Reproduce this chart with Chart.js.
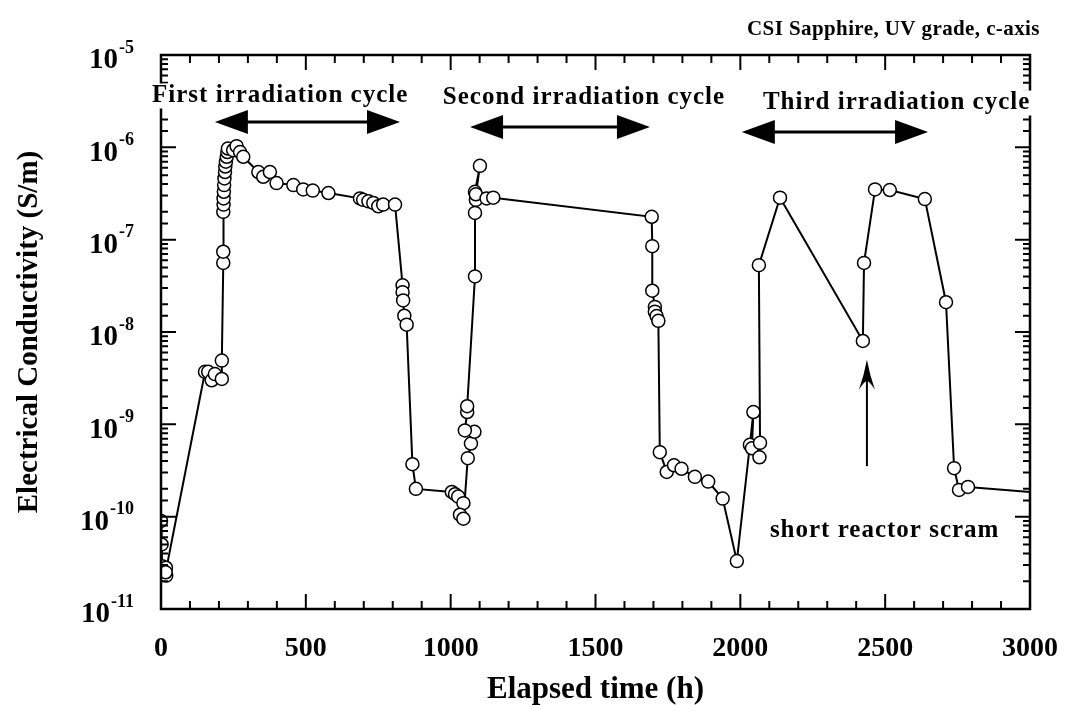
<!DOCTYPE html>
<html><head><meta charset="utf-8">
<script src="https://cdn.jsdelivr.net/npm/chart.js@4.4.1/dist/chart.umd.min.js"></script>
<style>html,body{margin:0;padding:0;background:#fff}#wrap{width:1065px;height:705px;position:relative}</style>
</head><body><div id="wrap"><canvas id="c"></canvas></div>
<script>
// Elapsed time (h) and electrical conductivity (S/m), in measurement order
const hours = [0, 2, 4, 10, 17, 18, 16,
  152, 163, 175, 186, 210, 210,
  215, 215, 215, 216, 216, 217, 218, 219, 221, 222, 224, 227, 229, 231,
  249, 261, 273, 284,
  336, 353, 376, 399, 457, 491, 524, 578, 687, 698, 716, 733, 750, 767, 808,
  834, 834, 836, 840, 848,
  868, 880, 1004, 1015, 1026, 1044, 1032, 1044,
  1059, 1070, 1082, 1049, 1057, 1057,
  1084, 1084, 1087, 1084, 1101, 1087, 1124, 1147,
  1694, 1696, 1696, 1705, 1705, 1711, 1717,
  1722, 1746, 1771, 1797, 1843, 1889, 1939,
  1988, 2033, 2045, 2040, 2066, 2068, 2064, 2137,
  2423, 2427, 2465, 2516, 2637, 2710, 2738, 2755, 2786, 3240];
const conductivity = [9.0e-11, 5.0e-11, 2.9e-11, 2.7e-11, 2.8e-11, 2.3e-11, 2.5e-11,
  3.7e-9, 3.7e-9, 3.0e-9, 3.5e-9, 3.1e-9, 4.9e-9,
  5.6e-8, 7.4e-8, 2.0e-7, 2.4e-7, 2.8e-7, 3.3e-7, 3.9e-7, 4.6e-7, 5.4e-7, 6.2e-7, 7.0e-7, 7.9e-7, 8.9e-7, 9.7e-7,
  9.3e-7, 1.03e-6, 8.9e-7, 7.9e-7,
  5.4e-7, 4.8e-7, 5.4e-7, 4.1e-7, 3.9e-7, 3.5e-7, 3.4e-7, 3.2e-7, 2.8e-7, 2.7e-7, 2.6e-7, 2.5e-7, 2.3e-7, 2.4e-7, 2.4e-7,
  3.2e-8, 2.7e-8, 2.2e-8, 1.5e-8, 1.2e-8,
  3.7e-10, 2.0e-10, 1.85e-10, 1.75e-10, 1.65e-10, 1.4e-10, 1.05e-10, 9.5e-11,
  4.3e-10, 6.2e-10, 8.3e-10, 8.6e-10, 1.36e-9, 1.57e-9,
  4.0e-8, 1.95e-7, 2.7e-7, 3.3e-7, 6.3e-7, 3.1e-7, 2.8e-7, 2.85e-7,
  1.77e-7, 8.5e-8, 2.8e-8, 1.87e-8, 1.66e-8, 1.49e-8, 1.32e-8,
  5.0e-10, 3.05e-10, 3.6e-10, 3.3e-10, 2.7e-10, 2.4e-10, 1.57e-10,
  3.3e-11, 6.0e-10, 1.36e-9, 5.5e-10, 4.4e-10, 6.3e-10, 5.3e-8, 2.85e-7,
  8.0e-9, 5.6e-8, 3.5e-7, 3.45e-7, 2.75e-7, 2.1e-8, 3.35e-10, 1.95e-10, 2.1e-10, 1.6e-10];

const xTickLabels = ['0', '500', '1000', '1500', '2000', '2500', '3000'];
const yExponents = [-11, -10, -9, -8, -7, -6, -5];
const yTickBase = '10';
const yTickExponentLabels = ['-11', '-10', '-9', '-8', '-7', '-6', '-5'];

// annotations: [text, x (h), log10(y), align, font size, letter spacing, white backing]
const annotationTexts = [
  ['CSI Sapphire, UV grade, c-axis', 3034, -4.73, 'right', 21, 0.4, false],
  ['First irradiation cycle', -31, -5.444, 'left', 25, 1, true],
  ['Second irradiation cycle', 973, -5.466, 'left', 25, 1, true],
  ['Third irradiation cycle', 2078, -5.52, 'left', 25, 1, true],
  ['short reactor scram', 2102, -10.146, 'left', 25, 1, false]
];
// double arrows: [x start (h), x end (h), log10(y)]
const cycleArrows = [[186, 825, -5.726], [1067, 1688, -5.78], [2005, 2648, -5.834]];
// scram arrow: [x (h), log10 tail, log10 tip]
const scramArrow = [2437, -9.453, -8.3];

const serif = '"Liberation Serif", "Times New Roman", serif';

function isDecade(v) { const l = Math.log10(v); return Math.abs(l - Math.round(l)) < 1e-6; }

const framePlugin = {
  id: 'frameTicks',
  afterDatasetsDraw(chart) {
    const { ctx, chartArea: a, scales: { x, y } } = chart;
    ctx.save();
    ctx.strokeStyle = '#000';
    ctx.fillStyle = '#000';
    ctx.lineWidth = 2;
    ctx.beginPath();
    x.ticks.forEach(t => {
      const px = x.getPixelForValue(t.value);
      const len = (t.value % 500 === 0) ? 15 : 8;
      ctx.moveTo(px, a.bottom); ctx.lineTo(px, a.bottom - len);
      ctx.moveTo(px, a.top); ctx.lineTo(px, a.top + len);
    });
    y.ticks.forEach(t => {
      const py = y.getPixelForValue(t.value);
      const len = isDecade(t.value) ? 15 : 7;
      ctx.moveTo(a.left, py); ctx.lineTo(a.left + len, py);
      ctx.moveTo(a.right, py); ctx.lineTo(a.right - len, py);
    });
    ctx.stroke();
    ctx.lineWidth = 2.5;
    ctx.strokeRect(a.left, a.top, a.right - a.left, a.bottom - a.top);

    // y tick labels with superscript exponents, placed on the log scale
    ctx.textBaseline = 'middle';
    yExponents.forEach((e, i) => {
      const py = y.getPixelForValue(Math.pow(10, e));
      ctx.font = 'bold 18px ' + serif;
      const expW = ctx.measureText(yTickExponentLabels[i]).width;
      const right = a.left - 27;
      ctx.textAlign = 'left';
      ctx.fillText(yTickExponentLabels[i], right - expW, py - 7);
      ctx.font = 'bold 29px ' + serif;
      ctx.textAlign = 'right';
      ctx.fillText(yTickBase, right - expW - 1, py + 6);
    });

    // annotations
    annotationTexts.forEach(([txt, hx, ly, align, size, sp, back]) => {
      ctx.font = 'bold ' + size + 'px ' + serif;
      ctx.letterSpacing = sp + 'px';
      ctx.textAlign = align;
      const px = x.getPixelForValue(hx), py = y.getPixelForValue(Math.pow(10, ly));
      if (back) {
        const w = ctx.measureText(txt).width;
        const left = align === 'left' ? px : px - w;
        ctx.fillStyle = '#fff';
        ctx.fillRect(left - 2, py - size * 0.5, w + 4, size);
        ctx.fillStyle = '#000';
      }
      ctx.fillText(txt, px, py);
    });
    ctx.letterSpacing = '0px';
    cycleArrows.forEach(([h1, h2, ly]) => {
      const x1 = x.getPixelForValue(h1), x2 = x.getPixelForValue(h2), py = y.getPixelForValue(Math.pow(10, ly));
      const hl = 33, hw = 12;
      ctx.lineWidth = 3;
      ctx.beginPath(); ctx.moveTo(x1 + hl - 2, py); ctx.lineTo(x2 - hl + 2, py); ctx.stroke();
      ctx.beginPath(); ctx.moveTo(x1, py); ctx.lineTo(x1 + hl, py - hw); ctx.lineTo(x1 + hl, py + hw); ctx.closePath(); ctx.fill();
      ctx.beginPath(); ctx.moveTo(x2, py); ctx.lineTo(x2 - hl, py - hw); ctx.lineTo(x2 - hl, py + hw); ctx.closePath(); ctx.fill();
    });
    {
      const [h, lt, lp] = scramArrow;
      const px = x.getPixelForValue(h), yt = y.getPixelForValue(Math.pow(10, lt)), yp = y.getPixelForValue(Math.pow(10, lp));
      ctx.lineWidth = 2;
      ctx.beginPath(); ctx.moveTo(px, yt); ctx.lineTo(px, yp + 15); ctx.stroke();
      ctx.beginPath();
      ctx.moveTo(px, yp);
      ctx.quadraticCurveTo(px - 3, yp + 16, px - 8, yp + 30);
      ctx.quadraticCurveTo(px - 3, yp + 22, px, yp + 21);
      ctx.quadraticCurveTo(px + 3, yp + 22, px + 8, yp + 30);
      ctx.quadraticCurveTo(px + 3, yp + 16, px, yp);
      ctx.closePath(); ctx.fill();
    }
    ctx.restore();
  }
};

new Chart(document.getElementById('c'), {
  type: 'line',
  data: {
    datasets: [{
      data: hours.map((h, i) => ({ x: h, y: conductivity[i] })),
      borderColor: '#000',
      borderWidth: 2,
      pointRadius: 6.5,
      pointBorderWidth: 1.5,
      pointBackgroundColor: '#fff',
      pointBorderColor: '#000',
      tension: 0
    }]
  },
  options: {
    responsive: true,
    maintainAspectRatio: false,
    animation: false,
    layout: { padding: { top: 55, right: 35, left: 0, bottom: 0 } },
    plugins: { legend: { display: false }, tooltip: { enabled: false } },
    scales: {
      x: {
        type: 'linear', min: 0, max: 3000,
        grid: { display: false, drawTicks: false },
        border: { display: false },
        ticks: {
          stepSize: 100, autoSkip: false, maxRotation: 0, padding: 23,
          color: '#000', font: { family: serif, size: 28, weight: 'bold' },
          callback: v => (v % 500 === 0 ? xTickLabels[v / 500] : '')
        },
        title: { display: true, text: 'Elapsed time (h)', color: '#000',
          font: { family: serif, size: 31, weight: 'bold', lineHeight: 1.0 }, padding: { top: 0, bottom: 0 } },
        afterFit: s => { s.height = 96; s.paddingLeft = 0; s.paddingRight = 0; }
      },
      y: {
        type: 'logarithmic', min: 1e-11, max: 1e-5,
        grid: { display: false, drawTicks: false },
        border: { display: false },
        ticks: {
          autoSkip: false, padding: 26,
          color: '#000', font: { family: serif, size: 28, weight: 'bold' },
          callback: () => ''
        },
        title: { display: true, text: 'Electrical Conductivity (S/m)', color: '#000',
          font: { family: serif, size: 29, weight: 'bold' }, padding: { top: 12, bottom: 0 } },
        afterFit: s => { s.width = 161; s.paddingTop = 0; s.paddingBottom = 0; }
      }
    }
  },
  plugins: [framePlugin]
});
</script></body></html>
